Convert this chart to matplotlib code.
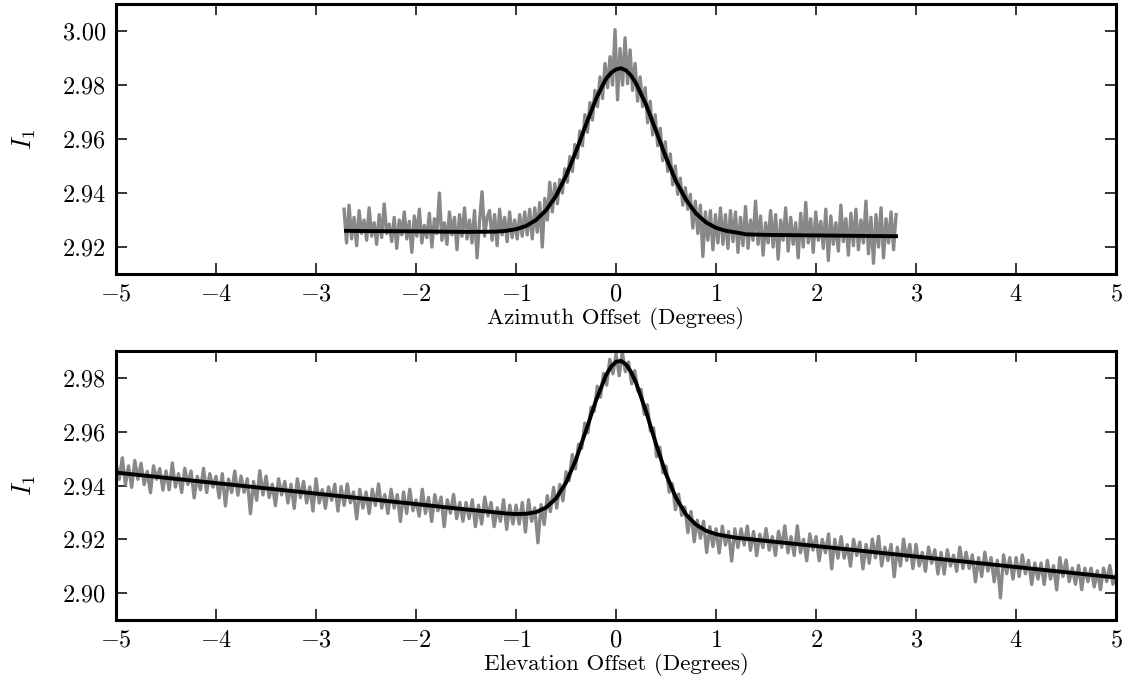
import numpy as np
import matplotlib
matplotlib.use("Agg")
import matplotlib.pyplot as plt

plt.rcParams["font.family"] = "serif"
plt.rcParams["font.serif"] = ["cmr10"]
plt.rcParams["mathtext.fontset"] = "cm"
plt.rcParams["axes.formatter.use_mathtext"] = True

# azimuth scan: measured I1 (grey) and fitted curve (black)
az_range = (-2.72, 2.80)
az_data = [
    2.9340, 2.9215, 2.9355, 2.9230, 2.9310, 2.9205, 2.9335, 2.9250, 2.9300, 2.9225,
    2.9345, 2.9240, 2.9290, 2.9210, 2.9320, 2.9235, 2.9360, 2.9250, 2.9285, 2.9220,
    2.9310, 2.9195, 2.9300, 2.9245, 2.9330, 2.9230, 2.9295, 2.9180, 2.9315, 2.9240,
    2.9340, 2.9215, 2.9280, 2.9235, 2.9325, 2.9200, 2.9305, 2.9250, 2.9400, 2.9225,
    2.9290, 2.9210, 2.9330, 2.9245, 2.9310, 2.9190, 2.9320, 2.9240, 2.9345, 2.9230,
    2.9300, 2.9215, 2.9335, 2.9160, 2.9295, 2.9405, 2.9240, 2.9310, 2.9335, 2.9225,
    2.9320, 2.9205, 2.9340, 2.9245,
    2.9310, 2.9220, 2.9330, 2.9235, 2.9300, 2.9230, 2.9320, 2.9240, 2.9330, 2.9245,
    2.9340, 2.9230, 2.9345, 2.9255, 2.9365, 2.9200, 2.9380, 2.9300, 2.9440, 2.9330,
    2.9435, 2.9360, 2.9450, 2.9400, 2.9490, 2.9440, 2.9535, 2.9480, 2.9580, 2.9530,
    2.9630, 2.9575, 2.9690, 2.9625, 2.9735, 2.9670, 2.9780, 2.9720, 2.9830, 2.9750,
    2.9880, 2.9790, 2.9905, 2.9800, 3.0005, 2.9745, 2.9935, 2.9800, 2.9975, 2.9805,
    2.9930, 2.9780, 2.9880, 2.9740, 2.9830, 2.9720, 2.9790, 2.9660, 2.9740, 2.9615,
    2.9690, 2.9575, 2.9640, 2.9520, 2.9590, 2.9480, 2.9545, 2.9430, 2.9500, 2.9395,
    2.9455, 2.9355, 2.9420, 2.9340, 2.9395, 2.9270, 2.9370, 2.9250, 2.9355, 2.9165,
    2.9330, 2.9225, 2.9335, 2.9190, 2.9320, 2.9215, 2.9345, 2.9210, 2.9320, 2.9195,
    2.9335,
    2.9220, 2.9330, 2.9180, 2.9310, 2.9205, 2.9350, 2.9195, 2.9300, 2.9225, 2.9370,
    2.9210, 2.9315, 2.9170, 2.9290, 2.9215, 2.9335, 2.9200, 2.9320, 2.9155, 2.9300,
    2.9225, 2.9345, 2.9185, 2.9310, 2.9210, 2.9290, 2.9160, 2.9325, 2.9200, 2.9365,
    2.9215, 2.9305, 2.9180, 2.9330, 2.9225, 2.9295, 2.9195, 2.9340, 2.9150, 2.9315,
    2.9210, 2.9290, 2.9185, 2.9355, 2.9220, 2.9305, 2.9170, 2.9325, 2.9205, 2.9340,
    2.9190, 2.9300, 2.9215, 2.9370, 2.9175, 2.9310, 2.9140, 2.9320, 2.9200, 2.9345,
    2.9160, 2.9305, 2.9215, 2.9330, 2.9190, 2.9320,
]
az_fit_x = [-2.7, -2.5, -2.0, -1.5, -1.2, -1.1, -1.0, -0.9, -0.8, -0.7, -0.6, -0.5,
            -0.4, -0.3, -0.2, -0.15, -0.1, -0.05, 0.0, 0.05, 0.1, 0.15, 0.2, 0.3,
            0.4, 0.5, 0.6, 0.7, 0.8, 0.9, 1.0, 1.1, 1.2, 1.3, 1.5, 2.0, 2.5, 2.8]
az_fit_y = [2.9260, 2.9259, 2.9258, 2.9256, 2.9257, 2.9260, 2.9266, 2.9278, 2.9300,
            2.9336, 2.9390, 2.9464, 2.9555, 2.9654, 2.9749, 2.9787, 2.9823, 2.9845,
            2.9858, 2.9862, 2.9854, 2.9835, 2.9806, 2.9727, 2.9630, 2.9531, 2.9443,
            2.9375, 2.9324, 2.9291, 2.9271, 2.9260, 2.9254, 2.9247, 2.9245, 2.9243,
            2.9241, 2.9240]

# elevation scan
el_range = (-5.0, 5.0)
el_data = [
    2.9483, 2.9423, 2.9503, 2.9403, 2.9473, 2.9393, 2.9493, 2.9423,
    2.9483, 2.9403, 2.9453, 2.9373, 2.9473, 2.9423, 2.9463, 2.9383,
    2.9454, 2.9384, 2.9484, 2.9394, 2.9444, 2.9374, 2.9464, 2.9404,
    2.9454, 2.9354, 2.9434, 2.9384, 2.9464, 2.9374, 2.9444, 2.9394,
    2.9434, 2.9354, 2.9444, 2.9324, 2.9424, 2.9374, 2.9454, 2.9364,
    2.9435, 2.9375, 2.9425, 2.9295, 2.9415, 2.9345, 2.9455, 2.9365,
    2.9435, 2.9355, 2.9405, 2.9325, 2.9425, 2.9365, 2.9415, 2.9335,
    2.9405, 2.9315, 2.9425, 2.9355, 2.9415, 2.9335, 2.9395, 2.9305,
    2.9425, 2.9335, 2.9385, 2.9315, 2.9395, 2.9345, 2.9405, 2.9305,
    2.9396, 2.9326, 2.9406, 2.9336, 2.9376, 2.9276, 2.9386, 2.9316,
    2.9376, 2.9296, 2.9386, 2.9326, 2.9406, 2.9316, 2.9366, 2.9296,
    2.9386, 2.9316, 2.9366, 2.9266, 2.9376, 2.9296, 2.9386, 2.9306,
    2.9346, 2.9286, 2.9386, 2.9296, 2.9356, 2.9266, 2.9366, 2.9306,
    2.9357, 2.9247, 2.9347, 2.9297, 2.9367, 2.9277, 2.9337, 2.9267,
    2.9337, 2.9277, 2.9347, 2.9247, 2.9327, 2.9257, 2.9357, 2.9287,
    2.9337, 2.9247, 2.9317, 2.9267, 2.9347, 2.9237, 2.9327, 2.9257,
    2.9327, 2.9257, 2.9337, 2.9227, 2.9347, 2.9267, 2.9317, 2.9187,
    2.9329, 2.9255, 2.9362, 2.9303, 2.9393, 2.9316, 2.9404, 2.9343,
    2.9451, 2.9418, 2.9515, 2.9462, 2.9554, 2.9538, 2.9632, 2.9596,
    2.9691, 2.9676, 2.9769, 2.9728, 2.9817, 2.9773, 2.9869, 2.9815,
    2.9890, 2.9808, 2.9896, 2.9823, 2.9859, 2.9778, 2.9827, 2.9750,
    2.9758, 2.9665, 2.9700, 2.9602, 2.9614, 2.9507, 2.9542, 2.9447,
    2.9472, 2.9375, 2.9407, 2.9310, 2.9368, 2.9289, 2.9320, 2.9225,
    2.9303, 2.9191, 2.9271, 2.9204, 2.9267, 2.9151, 2.9247, 2.9173,
    2.9239, 2.9149, 2.9249, 2.9179, 2.9229, 2.9119, 2.9239, 2.9169,
    2.9239, 2.9179, 2.9249, 2.9159, 2.9229, 2.9139, 2.9219, 2.9169,
    2.9240, 2.9160, 2.9210, 2.9140, 2.9230, 2.9170, 2.9250, 2.9150,
    2.9210, 2.9140, 2.9250, 2.9150, 2.9200, 2.9120, 2.9220, 2.9160,
    2.9210, 2.9120, 2.9200, 2.9150, 2.9220, 2.9090, 2.9200, 2.9130,
    2.9210, 2.9130, 2.9180, 2.9100, 2.9200, 2.9140, 2.9190, 2.9090,
    2.9181, 2.9111, 2.9201, 2.9131, 2.9211, 2.9101, 2.9171, 2.9121,
    2.9181, 2.9061, 2.9171, 2.9101, 2.9201, 2.9121, 2.9181, 2.9091,
    2.9181, 2.9101, 2.9151, 2.9081, 2.9171, 2.9111, 2.9161, 2.9071,
    2.9151, 2.9071, 2.9161, 2.9101, 2.9141, 2.9081, 2.9171, 2.9091,
    2.9152, 2.9092, 2.9142, 2.9042, 2.9132, 2.9062, 2.9152, 2.9082,
    2.9132, 2.9042, 2.9122, 2.8982, 2.9142, 2.9072, 2.9132, 2.9052,
    2.9132, 2.9062, 2.9142, 2.9072, 2.9122, 2.9032, 2.9112, 2.9052,
    2.9112, 2.9032, 2.9122, 2.9052, 2.9102, 2.9012, 2.9132, 2.9062,
    2.9123, 2.9043, 2.9093, 2.9033, 2.9103, 2.9013, 2.9093, 2.9043,
    2.9093, 2.9023, 2.9083, 2.9013, 2.9093, 2.9043, 2.9103, 2.9033,
    2.9068,
]
el_fit_x = [-5.0, -4.0, -3.0, -2.0, -1.5, -1.2, -1.1, -1.0, -0.9, -0.8, -0.7, -0.6,
            -0.5, -0.4, -0.3, -0.2, -0.1, -0.05, 0.0, 0.05, 0.1, 0.15, 0.2, 0.3,
            0.4, 0.5, 0.6, 0.7, 0.8, 0.9, 1.0, 1.1, 1.2, 1.5, 2.0, 3.0, 4.0, 5.0]
el_fit_y = [2.9448, 2.9409, 2.9370, 2.9331, 2.9311, 2.9300, 2.9296, 2.9294, 2.9295,
            2.9301, 2.9318, 2.9352, 2.9411, 2.9497, 2.9605, 2.9717, 2.9810, 2.9842,
            2.9860, 2.9863, 2.9850, 2.9822, 2.9782, 2.9675, 2.9554, 2.9442, 2.9354,
            2.9292, 2.9254, 2.9232, 2.9219, 2.9212, 2.9206, 2.9194, 2.9175, 2.9136,
            2.9097, 2.9058]

panels = [
    (az_range, az_data, az_fit_x, az_fit_y, (2.91, 3.01),
     [2.92, 2.94, 2.96, 2.98, 3.00], "Azimuth Offset (Degrees)"),
    (el_range, el_data, el_fit_x, el_fit_y, (2.89, 2.99),
     [2.90, 2.92, 2.94, 2.96, 2.98], "Elevation Offset (Degrees)"),
]

fig = plt.figure(figsize=(11.31, 6.83), dpi=100)
rects = [[0.1026, 0.5988, 0.8842, 0.3953], [0.1026, 0.0922, 0.8842, 0.3939]]

for rect, (xr, data, fx, fy, ylim, yticks, xlabel) in zip(rects, panels):
    ax = fig.add_axes(rect)
    x = np.linspace(xr[0], xr[1], len(data))
    ax.plot(x, data, color="#888888", lw=2.4, zorder=2)
    ax.plot(fx, fy, color="black", lw=2.8, zorder=3)
    ax.set_xlim(-5, 5)
    ax.set_ylim(*ylim)
    ax.set_xticks(range(-5, 6))
    ax.set_yticks(yticks)
    ax.set_yticklabels([f"{v:.2f}" for v in yticks])
    ax.tick_params(direction="in", top=True, right=True, length=8, width=1.1,
                   labelsize=17.5, pad=7)
    for s in ax.spines.values():
        s.set_linewidth(2.2)
    ax.set_xlabel(xlabel, fontsize=16.5, labelpad=1)
    ax.set_ylabel(r"$I_1$", fontsize=19, labelpad=18)

fig.savefig("out.png", dpi=100)
